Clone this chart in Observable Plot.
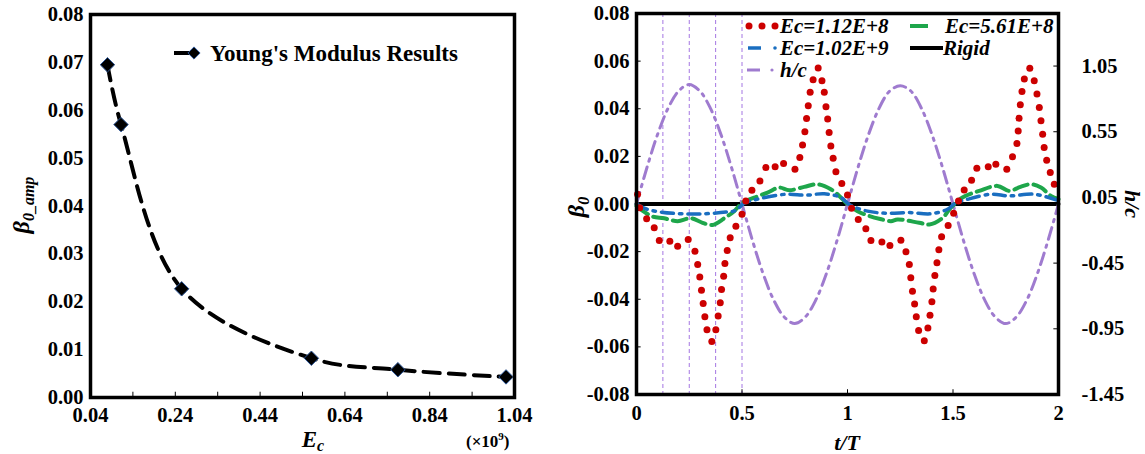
<!DOCTYPE html>
<html>
<head>
<meta charset="utf-8">
<script src="https://cdn.jsdelivr.net/npm/d3@7"></script>
<script src="https://cdn.jsdelivr.net/npm/@observablehq/plot@0.6"></script>
<style>
  html, body { margin: 0; padding: 0; background: #fff; }
  #wrap { position: relative; width: 1145px; height: 454px; overflow: hidden; background: #fff; }
  #left, #right { position: absolute; top: 0; }
  #left { left: 0; }
  #right { left: 560px; }
  svg { overflow: visible; }
</style>
</head>
<body>
<div id="wrap"><div id="left"></div><div id="right"></div></div>
<script>
// ---- Left panel: pitch amplitude versus Young's modulus ----
const ecValues = [0.08, 0.112, 0.255, 0.561, 0.765, 1.02];        // Ec (x10^9)
const betaAmp  = [0.0695, 0.057, 0.0227, 0.0082, 0.0058, 0.0043];  // beta_0 amplitude
const ecLabelTicks = [0.04, 0.24, 0.44, 0.64, 0.84, 1.04];
const ecMinorTicks = [0.14, 0.24, 0.34, 0.44, 0.54, 0.64, 0.74, 0.84, 0.94];
const ampTicks = [0, 0.01, 0.02, 0.03, 0.04, 0.05, 0.06, 0.07, 0.08];

// ---- Right panel: beta_0 time histories over two periods ----
const soft112T = [0.005,0.015,0.048,0.084,0.108,0.158,0.195,0.245,0.277,0.290,
  0.300,0.308,0.316,0.324,0.334,0.357,0.376,0.387,0.397,0.403,
  0.413,0.419,0.430,0.444,0.471,0.500,0.518,0.547,0.585,0.613,
  0.657,0.697,0.751,0.774,0.787,0.798,0.806,0.814,0.823,0.837,
  0.861,0.879,0.890,0.898,0.906,0.913,0.921,0.932,0.945,0.973,
  1.000,
  1.019,1.051,1.087,1.111,1.163,1.201,1.253,1.277,1.293,1.300,
  1.308,1.318,1.326,1.337,1.364,1.381,1.391,1.400,1.406,1.414,
  1.424,1.433,1.446,1.477,1.503,1.526,1.553,1.588,1.613,1.667,
  1.703,1.755,1.782,1.803,1.809,1.813,1.819,1.827,1.838,1.864,
  1.885,1.898,1.909,1.917,1.925,1.932,1.944,1.961,1.980];
const soft112B = [0.0041,-0.0016,-0.0062,-0.0100,-0.0153,-0.0156,-0.0177,-0.0149,-0.0198,-0.0254,
  -0.0307,-0.0362,-0.0418,-0.0473,-0.0528,-0.0577,-0.0528,-0.0470,-0.0415,-0.0359,
  -0.0303,-0.0250,-0.0195,-0.0142,-0.0093,-0.0043,0.0013,0.0058,0.0097,0.0153,
  0.0156,0.0170,0.0146,0.0195,0.0248,0.0303,0.0359,0.0413,0.0469,0.0522,
  0.0571,0.0518,0.0469,0.0408,0.0357,0.0300,0.0244,0.0192,0.0135,0.0086,
  0.0038,
  -0.0018,-0.0065,-0.0104,-0.0153,-0.0160,-0.0174,-0.0152,-0.0201,-0.0254,-0.0310,
  -0.0366,-0.0420,-0.0474,-0.0531,-0.0574,-0.0521,-0.0467,-0.0411,-0.0357,-0.0300,
  -0.0247,-0.0192,-0.0138,-0.0090,-0.0039,0.0013,0.0059,0.0100,0.0150,0.0156,
  0.0167,0.0146,0.0198,0.0254,0.0307,0.0360,0.0417,0.0472,0.0525,0.0570,
  0.0518,0.0462,0.0405,0.0350,0.0293,0.0237,0.0184,0.0132,0.0083];

const mid561T = [0,0.068,0.131,0.195,0.258,0.313,0.36,0.416,0.463,0.503,
  0.558,0.621,0.676,0.724,0.795,0.858,0.921,0.961,0.992,1.048,
  1.103,1.155,1.206,1.237,1.34,1.388,1.451,1.49,1.545,1.624,
  1.711,1.766,1.82,1.869,1.917,1.964,2.0];
const mid561B = [-0.0008,-0.005,-0.006,-0.0072,-0.006,-0.0079,-0.0088,-0.006,-0.003,0.0006,
  0.0027,0.0048,0.0069,0.0058,0.0072,0.0083,0.0062,0.0034,0.0006,-0.003,
  -0.005,-0.0063,-0.0072,-0.0065,-0.0079,-0.0086,-0.0058,-0.0015,0.0027,0.0055,
  0.0076,0.0055,0.0072,0.0083,0.0069,0.0034,0.002];

const stiff102T = [0,0.05,0.116,0.218,0.321,0.424,0.471,0.51,0.582,0.708,
  0.803,0.89,0.969,1.01,1.095,1.19,1.293,1.395,1.474,1.51,
  1.569,1.68,1.766,1.885,1.98,2.0];
const stiff102B = [0,-0.0022,-0.0034,-0.0041,-0.0041,-0.0034,-0.0027,0.0003,0.0022,0.0041,
  0.0037,0.0043,0.0027,-0.0003,-0.003,-0.0039,-0.0036,-0.0041,-0.0022,0.0003,
  0.002,0.0041,0.0034,0.0041,0.002,0.0015];

const rigidT = [0, 2];
const rigidB = [0, 0];

const heaveT = [0,0.05,0.1,0.15,0.2,0.25,0.3,0.35,0.4,0.45,0.5,
  0.55,0.6,0.65,0.7,0.75,0.8,0.85,0.9,0.95,1.0,
  1.05,1.1,1.15,1.2,1.25,1.3,1.35,1.4,1.45,1.5,
  1.55,1.6,1.65,1.7,1.75,1.8,1.85,1.9,1.95,2.0];
const heaveH = [0,0.28,0.53,0.73,0.86,0.91,0.86,0.73,0.53,0.28,0,
  -0.28,-0.53,-0.73,-0.86,-0.91,-0.86,-0.73,-0.53,-0.28,0,
  0.28,0.53,0.73,0.86,0.90,0.86,0.73,0.53,0.28,0,
  -0.28,-0.53,-0.73,-0.86,-0.91,-0.86,-0.73,-0.53,-0.28,0];

const phaseMarks = [0.125, 0.25, 0.375, 0.5];
const tTicks = [0, 0.5, 1, 1.5, 2];
const betaTicks = [-0.08, -0.06, -0.04, -0.02, 0, 0.02, 0.04, 0.06, 0.08];
const hcTicks = [-1.45, -0.95, -0.45, 0.05, 0.55, 1.05];

// colours
const RED = "#cc0000", GREEN = "#1ea64b", BLUE = "#1a6ec0", PURPLE = "#9f7bcf", GUIDE = "#a476e2";

const zip = (xs, ys, kx, ky) => xs.map((v, i) => ({[kx]: v, [ky]: ys[i]}));
const fmt2 = d => d.toFixed(2);
const baseStyle = "font-family: 'Liberation Serif', 'Times New Roman', serif; font-size: 20.5px; font-weight: bold; color: #000; background: transparent; overflow: visible;";

// text helper: explicit anchor, size and slant
function label(sel, {x = 0, y = 0, transform = null, anchor = "start", size = 20, italic = false}) {
  const t = sel.append("text")
    .attr("text-anchor", anchor)
    .style("font-size", size + "px")
    .style("font-weight", "bold")
    .style("font-style", italic ? "italic" : "normal")
    .style("font-family", "'Liberation Serif', 'Times New Roman', serif");
  if (transform) t.attr("transform", transform); else t.attr("x", x).attr("y", y);
  return t;
}

// ================= Left plot =================
const leftData = zip(ecValues, betaAmp, "ec", "amp");
const left = Plot.plot({
  width: 560, height: 454,
  marginLeft: 90, marginRight: 46, marginTop: 14, marginBottom: 57,
  style: baseStyle,
  x: {domain: [0.04, 1.04]},
  y: {domain: [0, 0.08]},
  marks: [
    Plot.axisX({ticks: ecLabelTicks, tickFormat: fmt2, tickSize: 0, tickPadding: 10, label: null}),
    Plot.axisY({ticks: ampTicks, tickFormat: fmt2, tickSize: 0, tickPadding: 7, label: null}),
    Plot.ruleX(ecMinorTicks, {y1: 0, y2: 0.0011, stroke: "#000", strokeWidth: 1}),
    Plot.line(leftData, {x: "ec", y: "amp", curve: "catmull-rom", stroke: "#000", strokeWidth: 4, strokeDasharray: "16,9"}),
    Plot.dot(leftData, {x: "ec", y: "amp", symbol: "diamond2", r: 6.5, fill: "#000", stroke: "#2b5597", strokeWidth: 1}),
    Plot.frame({stroke: "#000", strokeWidth: 3.5})
  ]
});
document.getElementById("left").append(left);

{
  const s = d3.select(left);
  // y title: beta_0_amp
  const yt = label(s, {transform: "translate(29,205) rotate(-90)", anchor: "middle", size: 24, italic: true});
  yt.append("tspan").text("β");
  yt.append("tspan").style("font-size", "16px").attr("dy", 5).text("0_amp");
  // x title: E_c
  const xt = label(s, {x: 313, y: 447, anchor: "middle", size: 23, italic: true});
  xt.append("tspan").text("E");
  xt.append("tspan").style("font-size", "16px").attr("dy", 4).text("c");
  // scale note
  const sc = label(s, {x: 466, y: 447, size: 17});
  sc.append("tspan").text("(×10");
  sc.append("tspan").style("font-size", "11px").attr("dy", -7).text("9");
  sc.append("tspan").attr("dy", 7).text(")");
  // legend
  const lg = s.append("g");
  lg.append("line").attr("x1", 174).attr("x2", 190).attr("y1", 53).attr("y2", 53)
    .attr("stroke", "#000").attr("stroke-width", 4);
  lg.append("path").attr("d", d3.symbol(d3.symbolDiamond2, 95)()).attr("transform", "translate(194,53)")
    .attr("fill", "#000").attr("stroke", "#2b5597").attr("stroke-width", 1);
  label(lg, {x: 210, y: 61, size: 23}).text("Young's Modulus Results");
}

// ================= Right plot =================
const K = 0.08 / 1.45; // h/c -> beta_0 axis mapping for the secondary axis
const redData = zip(soft112T, soft112B, "t", "b");
const greenData = zip(mid561T, mid561B, "t", "b");
const blueData = zip(stiff102T, stiff102B, "t", "b");
const rigidData = zip(rigidT, rigidB, "t", "b");
const heaveData = zip(heaveT, heaveH, "t", "h");

const right = Plot.plot({
  width: 585, height: 454,
  marginLeft: 76, marginRight: 87, marginTop: 13, marginBottom: 60,
  style: baseStyle,
  x: {domain: [0, 2]},
  y: {domain: [-0.08, 0.08]},
  marks: [
    Plot.ruleX(phaseMarks, {stroke: GUIDE, strokeWidth: 1, strokeDasharray: "4,3"}),
    Plot.axisX({ticks: tTicks, tickFormat: d => String(d), tickSize: 0, tickPadding: 11, label: null}),
    Plot.axisY({ticks: betaTicks, tickFormat: fmt2, tickSize: 0, tickPadding: 7, label: null}),
    Plot.axisY({anchor: "right", ticks: hcTicks.map(h => h * K), tickFormat: v => (v / K).toFixed(2), tickSize: 0, tickPadding: 23, label: null}),
    Plot.ruleX(tTicks.slice(1, -1), {y1: -0.08, y2: -0.078, stroke: "#000", strokeWidth: 1}),
    Plot.ruleY(betaTicks.slice(1, -1), {x1: 0, x2: 0.022, stroke: "#000", strokeWidth: 1}),
    Plot.ruleY(hcTicks.slice(1).map(h => h * K), {x1: 2, x2: 1.978, stroke: "#000", strokeWidth: 1}),
    Plot.line(rigidData, {x: "t", y: "b", stroke: "#000", strokeWidth: 4}),
    Plot.line(heaveData, {x: "t", y: d => d.h * K, curve: "catmull-rom", stroke: PURPLE, strokeWidth: 3, strokeDasharray: "12,6,2.5,6"}),
    Plot.line(greenData, {x: "t", y: "b", curve: "catmull-rom", stroke: GREEN, strokeWidth: 4, strokeDasharray: "14,6"}),
    Plot.line(blueData, {x: "t", y: "b", curve: "catmull-rom", stroke: BLUE, strokeWidth: 3.5, strokeDasharray: "12,6,2.5,6"}),
    Plot.dot(redData, {x: "t", y: "b", r: 3.5, fill: RED}),
    Plot.frame({stroke: "#000", strokeWidth: 3.5})
  ]
});
document.getElementById("right").append(right);

{
  const s = d3.select(right);
  // left title beta_0
  const yt = label(s, {transform: "translate(24,207) rotate(-90)", anchor: "middle", size: 24, italic: true});
  yt.append("tspan").text("β");
  yt.append("tspan").style("font-size", "16px").attr("dy", 5).text("0");
  // right title h/c
  label(s, {transform: "translate(565,204) rotate(90)", anchor: "middle", size: 22, italic: true}).text("h/c");
  // x title t/T
  label(s, {x: 287, y: 450, anchor: "middle", size: 22, italic: true}).text("t/T");

  // legend
  const lg = s.append("g");
  const lt = (x, y, txt) => label(lg, {x, y: y + 7, size: 21, italic: true}).text(txt);
  [189, 202, 215].forEach(x => lg.append("circle").attr("cx", x).attr("cy", 26).attr("r", 3.5).attr("fill", RED));
  lt(220, 26, "Ec=1.12E+8");
  lg.append("line").attr("x1", 350).attr("x2", 368).attr("y1", 26).attr("y2", 26).attr("stroke", GREEN).attr("stroke-width", 4);
  lt(385, 26, "Ec=5.61E+8");
  lg.append("line").attr("x1", 188).attr("x2", 201).attr("y1", 48).attr("y2", 48).attr("stroke", BLUE).attr("stroke-width", 3.5);
  lg.append("circle").attr("cx", 215).attr("cy", 48).attr("r", 1.8).attr("fill", BLUE);
  lt(220, 48, "Ec=1.02E+9");
  lg.append("line").attr("x1", 350).attr("x2", 383).attr("y1", 48).attr("y2", 48).attr("stroke", "#000").attr("stroke-width", 4);
  lt(383, 48, "Rigid");
  lg.append("line").attr("x1", 187).attr("x2", 200).attr("y1", 70).attr("y2", 70).attr("stroke", PURPLE).attr("stroke-width", 3);
  lg.append("circle").attr("cx", 212).attr("cy", 70).attr("r", 1.6).attr("fill", PURPLE);
  lt(220, 70, "h/c");
}
</script>
</body>
</html>
